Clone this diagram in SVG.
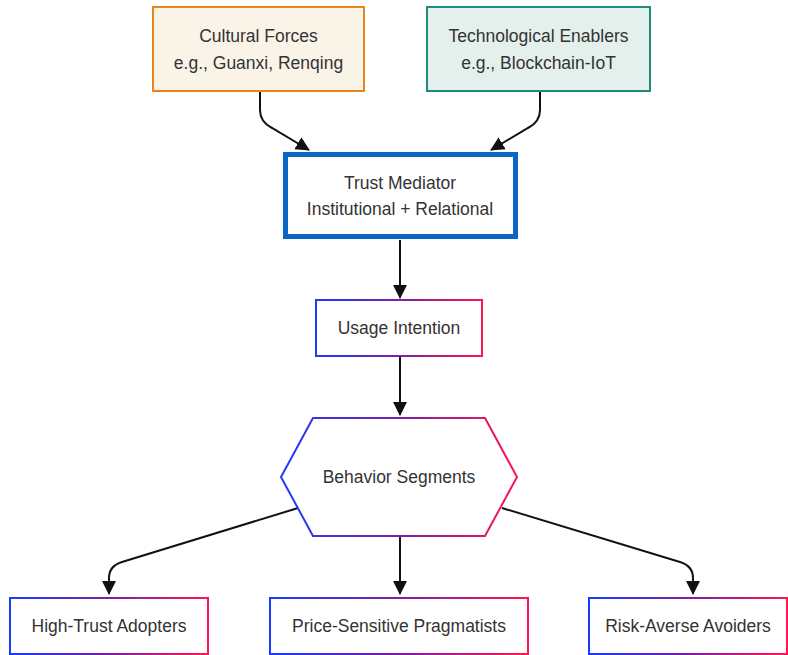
<svg xmlns="http://www.w3.org/2000/svg" width="788" height="655" viewBox="0 0 788 655">
<style>
text{font-family:"Liberation Sans",Arial,sans-serif;font-size:17.5px;fill:#333;text-anchor:middle;dominant-baseline:central}
.edge{fill:none;stroke:#111;stroke-width:2}
.grad{fill:#fff;stroke:url(#g);stroke-width:2}
</style>
<defs>
<linearGradient id="g" x1="0" y1="0" x2="1" y2="0">
<stop offset="0" stop-color="#1a3cff"/>
<stop offset="0.5" stop-color="#7a1fa8"/>
<stop offset="1" stop-color="#ff1550"/>
</linearGradient>
<marker id="arr" markerUnits="userSpaceOnUse" markerWidth="14" markerHeight="14" viewBox="0 0 14 14" refX="13" refY="7" orient="auto">
<path d="M0,0 L14,7 L0,14 z" fill="#111"/>
</marker>
</defs>
<g id="connectors">
<path class="edge" marker-end="url(#arr)" d="M260,92 L260,110 Q260,122 272,128 L309,150"/>
<path class="edge" marker-end="url(#arr)" d="M540,92 L540,110 Q540,122 528,128 L491,150"/>
<path class="edge" marker-end="url(#arr)" d="M400,240 L400,298"/>
<path class="edge" marker-end="url(#arr)" d="M400,357 L400,415"/>
<path class="edge" marker-end="url(#arr)" d="M298,508 L122,562 Q109,566 109,578 L109,594"/>
<path class="edge" marker-end="url(#arr)" d="M400,537 L400,594"/>
<path class="edge" marker-end="url(#arr)" d="M502,508 L680,562 Q693,566 693,578 L693,594"/>
</g>
<g id="cultural">
<rect x="153" y="7" width="211" height="84" fill="#f9f3e8" stroke="#e8851c" stroke-width="2"/>
<text x="258.5" y="36">Cultural Forces</text>
<text x="258.5" y="63">e.g., Guanxi, Renqing</text>
</g>
<g id="tech">
<rect x="427" y="7" width="223" height="84" fill="#e3f0ec" stroke="#1e8c7a" stroke-width="2"/>
<text x="538.5" y="36">Technological Enablers</text>
<text x="538.5" y="63">e.g., Blockchain-IoT</text>
</g>
<g id="trust">
<rect x="285.5" y="154.5" width="230" height="82" fill="#fff" stroke="#0b66c8" stroke-width="5"/>
<text x="400" y="183">Trust Mediator</text>
<text x="400" y="209">Institutional + Relational</text>
</g>
<g id="usage">
<rect class="grad" x="316" y="300" width="166" height="56"/>
<text x="399" y="328">Usage Intention</text>
</g>
<g id="behavior">
<polygon class="grad" points="313,418 485,418 517,477 485,536 313,536 281,477"/>
<text x="399" y="477">Behavior Segments</text>
</g>
<g id="hightrust">
<rect class="grad" x="10" y="598" width="198" height="56"/>
<text x="109" y="626">High-Trust Adopters</text>
</g>
<g id="price">
<rect class="grad" x="270" y="598" width="258" height="56"/>
<text x="399" y="626">Price-Sensitive Pragmatists</text>
</g>
<g id="risk">
<rect class="grad" x="589" y="598" width="198" height="56"/>
<text x="688" y="626">Risk-Averse Avoiders</text>
</g>
</svg>
